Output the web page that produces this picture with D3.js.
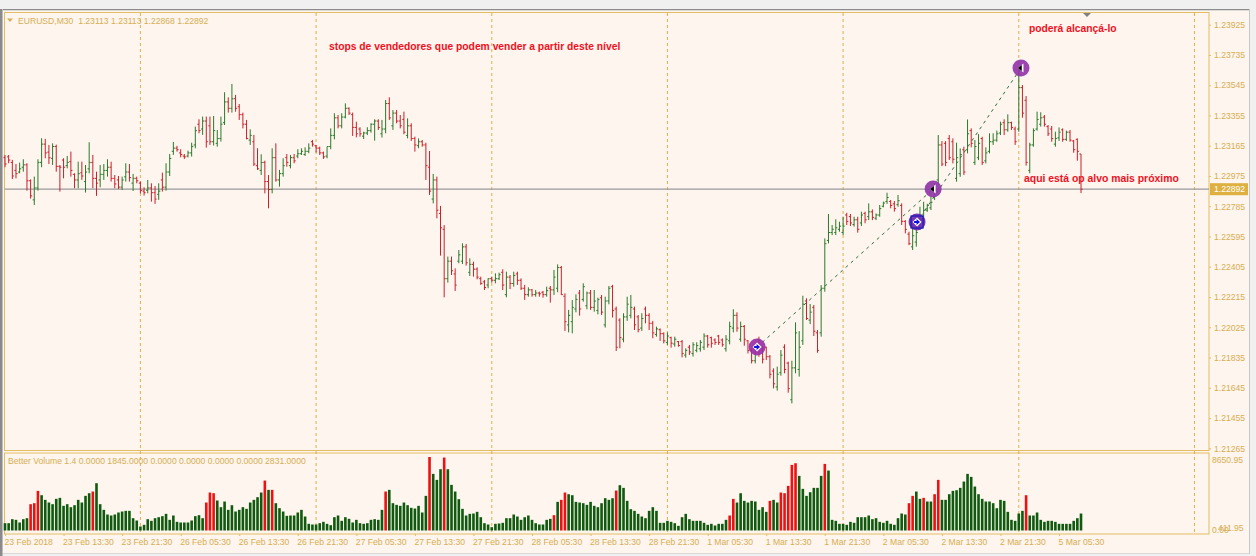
<!DOCTYPE html>
<html><head><meta charset="utf-8">
<style>html,body{margin:0;padding:0;background:#f0f0f0;overflow:hidden}svg{display:block}</style>
<script src="https://cdn.jsdelivr.net/npm/d3@7"></script>
</head><body><svg id="c" width="1256" height="556"></svg>
<script>
// prices are stored as points above 1.20000 (1 point = 0.00001)
const highs=[3107,3107,3076,3050,3059,3080,3055,2954,2971,3080,
3212,3208,3170,3180,3172,3044,3086,3101,3128,2992,
3065,3065,3044,3187,3107,3002,3044,3050,3080,3065,
2981,2975,2971,3055,3050,2988,2971,2940,2904,2950,
2929,2912,2929,2996,3055,3113,3189,3164,3143,3113,
3134,3184,3285,3331,3348,3348,3348,3352,3264,3348,
3501,3469,3553,3484,3427,3373,3327,3268,3233,3149,
3111,3071,2981,3149,3180,3013,3086,3113,3107,3113,
3143,3149,3155,3180,3201,3170,3159,3128,3159,3274,
3369,3358,3369,3431,3406,3373,3316,3281,3253,3281,
3306,3331,3331,3327,3452,3469,3389,3389,3358,3379,
3337,3306,3222,3211,3201,3184,3132,2988,2971,2787,
2667,2469,2469,2395,2510,2552,2548,2458,2437,2401,
2343,2322,2332,2343,2364,2368,2389,2374,2353,2374,
2374,2332,2291,2276,2265,2259,2249,2253,2280,2284,
2385,2420,2410,2238,2134,2196,2232,2259,2301,2249,
2259,2259,2211,2228,2217,2284,2291,2155,2081,2113,
2217,2228,2155,2102,2113,2155,2113,2065,2029,2018,
1993,1993,1966,1966,1939,1945,1893,1914,1931,1931,
1945,1987,1977,1966,1956,1977,1955,1976,2060,2138,
2119,2060,2039,1945,1893,1903,1966,1903,1903,1851,
1767,1778,1882,1918,1809,1815,2056,2001,2223,2207,
2171,2165,2008,2290,2583,2736,2667,2703,2688,2719,
2744,2736,2719,2719,2751,2751,2803,2765,2740,2793,
2814,2870,2824,2818,2856,2803,2698,2625,2677,2698,
2782,2813,2800,2845,2929,3232,3194,3194,3232,3211,
3184,3148,3159,3330,3274,3201,3238,3221,3155,3243,
3243,3260,3316,3331,3362,3316,3285,3651,3546,3477,
3184,3274,3379,3375,3358,3295,3289,3253,3280,3274,
3260,3264,3201,3211,3113];
const lows=[3030,3055,2956,2960,2992,3002,2883,2833,2793,2883,
3030,3086,3050,3044,3002,2877,2960,3023,2971,2898,
2898,2950,2871,2992,2898,2850,2904,2950,2971,2940,
2898,2894,2887,2940,2940,2881,2929,2866,2852,2866,
2814,2800,2825,2877,2883,2975,3107,3128,3092,3082,
3092,3097,3149,3243,3233,3153,3170,3166,3159,3191,
3295,3373,3373,3379,3327,3274,3205,3170,3038,3013,
2981,2866,2772,2866,2940,2908,2971,3033,3023,3055,
3086,3107,3101,3118,3159,3122,3107,3082,3086,3143,
3205,3274,3274,3337,3358,3226,3218,3222,3207,3232,
3247,3197,3264,3216,3243,3327,3264,3306,3274,3237,
3211,3195,3128,3149,3159,2950,2856,2803,2709,2475,
2213,2305,2353,2253,2427,2422,2412,2347,2343,2326,
2291,2259,2270,2305,2301,2322,2259,2213,2265,2280,
2291,2259,2197,2217,2217,2217,2217,2211,2217,2180,
2228,2245,2228,2002,1993,1987,2119,2098,2186,2138,
2134,2123,2106,2102,2023,2169,2086,1876,1893,1931,
2065,2081,2008,1993,2002,2050,2008,1956,1966,1939,
1924,1914,1897,1903,1903,1836,1834,1851,1841,1868,
1872,1882,1897,1897,1914,1914,1903,1872,1918,1993,
1997,1934,1909,1861,1798,1798,1840,1798,1819,1704,
1641,1627,1721,1736,1614,1547,1736,1715,1914,2071,
2045,1970,1865,1966,2248,2552,2604,2604,2625,2604,
2667,2661,2657,2619,2661,2678,2698,2698,2698,2719,
2778,2800,2772,2751,2782,2667,2615,2541,2510,2531,
2636,2677,2750,2761,2824,2918,3037,3037,3075,3054,
2939,2970,2981,3117,3155,3044,3075,3044,3054,3117,
3170,3190,3232,3232,3253,3264,3170,3253,3341,3040,
2992,3159,3260,3285,3285,3226,3190,3159,3195,3190,
3195,3190,3121,3071,2868];
const opens=[3090,3095,3060,3010,3000,3030,3045,2945,2825,2900,
3060,3175,3125,3085,3160,3035,3075,3040,3065,2985,
2950,2995,2940,3020,3060,2960,2950,2985,3010,3030,
2960,2950,2905,2970,3000,2930,2960,2930,2880,2885,
2900,2870,2860,2950,2905,3000,3130,3150,3120,3100,
3100,3120,3170,3300,3270,3320,3290,3190,3180,3210,
3310,3440,3400,3460,3410,3360,3300,3200,3190,3040,
3010,3060,2940,2890,3090,2950,2990,3090,3040,3090,
3100,3115,3110,3130,3190,3165,3150,3120,3100,3160,
3230,3340,3290,3345,3400,3360,3280,3270,3225,3245,
3260,3300,3320,3240,3270,3430,3290,3370,3320,3330,
3230,3290,3210,3165,3190,3170,3030,2830,2950,2740,
2640,2330,2440,2360,2440,2440,2530,2370,2420,2390,
2330,2310,2290,2330,2320,2330,2370,2230,2340,2300,
2360,2320,2270,2230,2260,2230,2240,2245,2230,2270,
2260,2270,2400,2220,2040,2060,2140,2240,2200,2160,
2240,2150,2130,2210,2040,2190,2280,2140,2070,1950,
2090,2100,2140,2090,2020,2140,2100,2050,1980,2010,
1985,1930,1960,1920,1935,1935,1850,1900,1860,1880,
1890,1900,1970,1960,1945,1970,1945,1890,1940,2020,
2100,1950,2030,1940,1880,1815,1950,1890,1900,1840,
1750,1650,1740,1900,1800,1570,1770,1760,1940,2190,
2070,2150,1990,1990,2270,2570,2620,2620,2640,2620,
2730,2720,2670,2700,2680,2740,2720,2750,2710,2730,
2785,2815,2815,2800,2795,2790,2690,2610,2530,2560,
2650,2700,2760,2775,2840,2950,3170,3180,3210,3190,
2960,2990,3140,3140,3260,3060,3090,3210,3070,3130,
3190,3200,3245,3310,3265,3310,3270,3270,3530,3450,
3010,3170,3270,3300,3345,3285,3270,3175,3215,3265,
3205,3250,3195,3205,3113];
const closes=[3050,3075,2975,2990,3020,3045,2945,2850,2900,3060,
3175,3120,3090,3160,3035,3030,3030,3060,3010,2950,
2990,2975,3000,3060,2960,2930,2985,3010,3030,2960,
2925,2905,2950,3000,2965,2960,2945,2885,2870,2900,
2870,2830,2880,2905,3000,3085,3150,3140,3110,3095,
3120,3160,3260,3260,3320,3190,3190,3260,3210,3300,
3440,3400,3460,3400,3360,3300,3210,3230,3050,3020,
3060,2940,2890,3090,2950,2990,3040,3060,3090,3070,
3115,3130,3130,3150,3175,3150,3120,3095,3160,3230,
3340,3290,3345,3400,3370,3280,3240,3240,3245,3260,
3300,3320,3280,3270,3430,3340,3370,3320,3290,3250,
3290,3210,3170,3190,3170,3040,2880,2950,2760,2650,
2330,2440,2380,2290,2480,2530,2430,2420,2390,2340,
2300,2275,2330,2320,2330,2355,2290,2340,2300,2350,
2320,2270,2230,2260,2230,2240,2235,2230,2255,2260,
2340,2400,2230,2060,2100,2150,2200,2140,2280,2240,
2150,2190,2200,2120,2190,2270,2130,1900,1960,2090,
2170,2150,2040,2010,2080,2100,2050,1990,2015,1985,
1940,1970,1925,1950,1910,1860,1880,1870,1915,1910,
1930,1970,1915,1925,1930,1930,1915,1950,2030,2100,
2020,2030,1950,1880,1815,1880,1900,1825,1840,1730,
1670,1730,1850,1760,1640,1770,1990,1900,2170,2080,
2120,2000,1880,2270,2550,2620,2640,2650,2660,2660,
2690,2680,2700,2640,2730,2700,2750,2715,2730,2770,
2805,2840,2790,2770,2820,2690,2640,2550,2600,2620,
2700,2760,2790,2810,2890,3170,3050,3060,3090,3080,
3090,3110,3000,3240,3180,3160,3180,3060,3120,3190,
3200,3240,3300,3265,3310,3280,3190,3530,3370,3060,
3170,3260,3330,3340,3300,3240,3210,3210,3250,3205,
3250,3200,3140,3130,2892];
const volumes=[862,862,1333,1254,941,1333,1450,3097,3214,4665,
4155,3606,3293,3097,3724,3842,2901,3097,2744,2979,
3606,3293,4077,4390,4586,5566,3097,2430,1882,1764,
1882,2117,2234,2313,2313,1450,1176,470,666,1333,
1137,1450,1568,1686,1960,1254,1764,1019,941,941,
941,1176,1686,1803,1450,3293,4469,4390,3528,2744,
3410,2430,2979,2234,2430,2744,2548,3293,3606,3920,
4469,5880,4782,4782,3214,2626,2234,1725,1764,1764,
2117,2430,1646,784,706,706,862,1019,784,627,
1568,1764,1137,1568,1372,941,1254,862,784,862,
1254,1333,1254,2430,4586,4782,3214,3018,2901,3293,
2979,2666,2587,2901,2117,4077,8650,6664,5958,7213,
8585,7213,5370,4586,3685,2548,1764,1960,1999,2195,
1568,862,706,392,784,823,902,1450,1450,1882,
1646,1254,1568,1764,1254,862,706,706,1254,1372,
1803,3371,3606,4469,4273,4155,3371,3293,3214,3018,
3371,2901,2744,3214,3802,3606,3802,4704,5331,5018,
3489,2509,2313,1960,1646,1450,2313,2744,2313,902,
902,1137,1019,862,549,1568,1960,1333,1137,1137,
1137,902,666,784,588,784,784,1254,1764,3724,
3293,4390,3489,3293,3489,3410,2430,2744,2195,3489,
3606,3293,4469,4390,5253,7722,7918,6429,4900,4077,
4508,5018,5018,6429,7840,7056,1254,1137,784,784,
666,1019,902,1568,1568,1568,1764,1333,1450,1019,
902,1137,784,666,1450,1999,1882,3214,4077,4586,
3724,3842,3410,3410,4273,5958,3606,3606,4273,4665,
4743,5018,5762,6664,6311,5174,4273,3724,3410,3410,
3214,2626,3606,3489,2195,1254,1137,1999,2313,4155,
1764,1764,2117,1254,1019,1137,1137,1019,784,784,
784,784,1137,1450,1999];
const redVolumeBars=[7,8,9,24,55,56,57,71,73,104,116,120,150,152,153,167,198,199,209,212,213,214,215,216,224,247,248,251,254,255,279];
const priceTicks=[1.23925,1.23735,1.23545,1.23355,1.23165,1.22975,1.22785,1.22595,1.22405,1.22215,1.22025,1.21835,1.21645,1.21455,1.21265];
const timeLabels=["23 Feb 2018","23 Feb 13:30","23 Feb 21:30","26 Feb 05:30","26 Feb 13:30","26 Feb 21:30","27 Feb 05:30","27 Feb 13:30","27 Feb 21:30","28 Feb 05:30","28 Feb 13:30","28 Feb 21:30","1 Mar 05:30","1 Mar 13:30","1 Mar 21:30","2 Mar 05:30","2 Mar 13:30","2 Mar 21:30","5 Mar 05:30"];
const separatorBars=[37,85,133,181,229,277,325];
const bidPrice=1.22892;
const trades=[{from:205.5,fromP:1.21901,to:253.6,toP:1.22893},{from:249.2,fromP:1.22686,to:277.6,toP:1.23653}];

const gold="#e3bd62",axisText="#d6ae52",green="#2a7a2a",red="#c9202a";
const font="'Liberation Sans',Arial,sans-serif";
const small=8.6;
const P=p=>1.2+p/1e5;
const svg=d3.select("#c");
const x=d3.scaleLinear().domain([0,294]).range([5,1081]);
const y=d3.scaleLinear().domain([1.21265,1.23925]).range([448.3,24.7]);
const yv=d3.scaleLinear().domain([0,8650.95]).range([530.5,457]);

// window chrome
svg.append("rect").attr("x",0).attr("y",0).attr("width",1256).attr("height",556).attr("fill","#f0f0f0");
svg.append("rect").attr("x",0).attr("y",9).attr("width",2.5).attr("height",547).attr("fill","#8a8a8a");
svg.append("rect").attr("x",3).attr("y",9).attr("width",1246).attr("height",1.5).attr("fill","#8c8c8c");
svg.append("rect").attr("x",3).attr("y",10.5).attr("width",1246).attr("height",543).attr("fill","#fef5ee");
svg.append("rect").attr("x",1249).attr("y",9).attr("width",1).attr("height",545).attr("fill","#c8c8c8");
svg.append("rect").attr("x",3).attr("y",553).attr("width",1246).attr("height",1).attr("fill","#d8d8d8");
// panes
const frame=svg.append("g").attr("fill","none").attr("stroke",gold).attr("stroke-width",1);
frame.append("rect").attr("x",4.5).attr("y",12.5).attr("width",1204.5).attr("height",438);
frame.append("rect").attr("x",4.5).attr("y",453).attr("width",1204.5).attr("height",81);
// separators
svg.append("g").selectAll("line").data(separatorBars).join("line")
 .attr("x1",d=>x(d)).attr("x2",d=>x(d)).attr("y1",13).attr("y2",534)
 .attr("stroke","#dcb04c").attr("stroke-dasharray","3,3");
// bid line
svg.append("line").attr("x1",4.5).attr("x2",1209).attr("y1",y(bidPrice)).attr("y2",y(bidPrice)).attr("stroke","#9a9a9a").attr("stroke-width",1.3);
// trade markers under the bars
const marks=[{b:205.5,p:1.21901,ring:"#9a2fa6",core:"#b02a8a",k:"r"},{b:249.2,p:1.22686,ring:"#6a28b0",core:"#2a20c0",k:"r"},{b:253.6,p:1.22893,ring:"#8f35a8",core:"#8f35a8",k:"l"},{b:277.6,p:1.23653,ring:"#9435a8",core:"#9435a8",k:"l"}];
// trade lines
svg.append("g").selectAll("line").data(trades).join("line")
 .attr("x1",d=>x(d.from)).attr("y1",d=>y(d.fromP)).attr("x2",d=>x(d.to)).attr("y2",d=>y(d.toP))
 .attr("stroke","#2d6b3a").attr("stroke-dasharray","3,4");
// OHLC bars
const idx=d3.range(highs.length);
const col=i=>closes[i]>=opens[i]?green:red;
const gb=svg.append("g");
gb.selectAll("line.v").data(idx).join("line").attr("class","v")
 .attr("x1",i=>x(i)).attr("x2",i=>x(i)).attr("y1",i=>y(P(highs[i]))).attr("y2",i=>y(P(lows[i]))).attr("stroke",col);
gb.selectAll("line.o").data(idx).join("line").attr("class","o")
 .attr("x1",i=>x(i)-1.6).attr("x2",i=>x(i)).attr("y1",i=>y(P(opens[i]))).attr("y2",i=>y(P(opens[i]))).attr("stroke",col);
gb.selectAll("line.c").data(idx).join("line").attr("class","c")
 .attr("x1",i=>x(i)).attr("x2",i=>x(i)+1.6).attr("y1",i=>y(P(closes[i]))).attr("y2",i=>y(P(closes[i]))).attr("stroke",col);
// volume
svg.append("g").selectAll("rect").data(idx).join("rect")
 .attr("x",i=>x(i)-1.3).attr("width",2.6).attr("y",i=>yv(volumes[i])).attr("height",i=>yv(0)-yv(volumes[i]))
 .attr("fill",i=>redVolumeBars.includes(i)?"#ee1111":"#0f5a0f");
const gm=svg.append("g").selectAll("g").data(marks).join("g").attr("transform",d=>`translate(${x(d.b)},${y(d.p)})`);
gm.append("circle").attr("r",8.5).attr("fill",d=>d.ring).attr("opacity",.92);
gm.filter(d=>d.k==="r"&&d.b>240).append("rect").attr("x",-6).attr("y",-6).attr("width",12).attr("height",12).attr("fill","none").attr("stroke","#1c18b8").attr("stroke-width",1.2);
gm.append("path").attr("d",d=>d.k==="r"?"M0,-4.5L4.5,0L0,4.5L-4.5,0Z":"M-3,0L2.5,-4.5L2.5,4.5Z").attr("fill","#fff");
gm.append("path").attr("d",d=>d.k==="r"?"M-3,-1H-0.5V-3L3,0L-0.5,3V1H-3Z":"M-3,0L0.8,-3L0.8,3Z").attr("fill",d=>d.k==="r"?"#1010e0":"#000");
// top triangle
svg.append("path").attr("d",d3.line()([[1083,13],[1091,13],[1087,17]])).attr("fill","#808080");
// price axis
const ay=svg.append("g").attr("transform","translate(1209,0)").call(d3.axisRight(y).tickValues(priceTicks).tickFormat(d3.format(".5f")).tickSize(2).tickPadding(3));
ay.select(".domain").remove();
ay.selectAll("line").attr("stroke",gold);
ay.selectAll("text").attr("fill",axisText).attr("font-family",font).attr("font-size",small);
// time axis
const ax=svg.append("g").attr("transform","translate(0,534)").call(d3.axisBottom(x).tickValues(timeLabels.map((_,i)=>i*16)).tickFormat((d,i)=>timeLabels[i]).tickSize(2).tickPadding(3));
ax.select(".domain").remove();
ax.selectAll("line").attr("stroke",gold);
ax.selectAll("text").attr("fill",axisText).attr("font-family",font).attr("font-size",small).attr("text-anchor","start").attr("dx",-1);
// bid tag
svg.append("rect").attr("x",1210).attr("y",y(bidPrice)-6).attr("width",38).attr("height",12).attr("fill","#deb03f");
const T=(s,xx,yy,o={})=>svg.append("text").attr("x",xx).attr("y",yy).text(s).attr("font-family",font).attr("font-size",o.size||small).attr("fill",o.fill||axisText).attr("font-weight",o.w||"normal").attr("text-anchor",o.a||"start");
T("1.22892",1214,y(bidPrice)+3,{fill:"#fff"});
T("8650.95",1212,462.5);
T("0.00",1212,533);
T("411.95",1218,531);
svg.append("path").attr("d",d3.line()([[7,18.5],[13,18.5],[10,22]])).attr("fill",axisText);
T("EURUSD,M30\u00a0\u00a01.23113 1.23113 1.22868 1.22892",18,24);
T("Better Volume 1.4 0.0000 1845.0000 0.0000 0.0000 0.0000 0.0000 2831.0000",8,464);
const redT="#f2101e";
T("stops de vendedores que podem vender a partir deste nível",329,50,{fill:redT,w:"bold",size:10.3});
T("poderá alcançá-lo",1029,32,{fill:redT,w:"bold",size:10.3});
T("aqui está op alvo mais próximo",1024,182,{fill:redT,w:"bold",size:10.4});
</script></body></html>
